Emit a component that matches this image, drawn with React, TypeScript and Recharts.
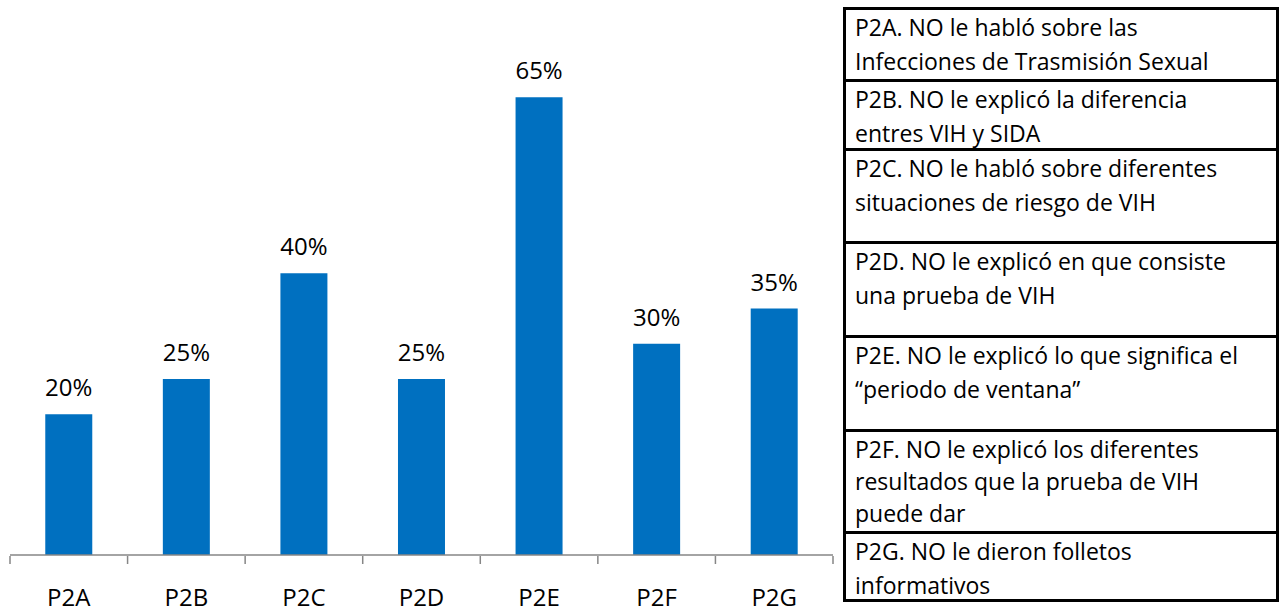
import React from 'react';
import { BarChart, Bar, XAxis, YAxis, LabelList } from 'recharts';

const categories = ['P2A', 'P2B', 'P2C', 'P2D', 'P2E', 'P2F', 'P2G'];
const values = [20, 25, 40, 25, 65, 30, 35];
const boundaryTicks = [0, 1, 2, 3, 4, 5, 6, 7];
const descriptions: string[][] = [
  ['P2A. NO le habló sobre las', 'Infecciones de Trasmisión Sexual'],
  ['P2B. NO le explicó la diferencia', 'entres VIH y SIDA'],
  ['P2C. NO le habló sobre diferentes', 'situaciones de riesgo de VIH'],
  ['P2D. NO le explicó en que consiste', 'una prueba de VIH'],
  ['P2E. NO le explicó lo que significa el', '\u201cperiodo de ventana\u201d'],
  ['P2F. NO le explicó los diferentes', 'resultados que la prueba de VIH', 'puede dar'],
  ['P2G. NO le dieron folletos', 'informativos'],
];
const rowHeights = [69, 69, 93, 94, 94, 102, 68];

const data = categories.map((name, i) => ({ name, value: values[i] }));

const FONT = '"Open Sans", "Noto Sans", sans-serif';

const CategoryTick = (props: any) => {
  const { x, y, payload } = props;
  return (
    <text x={x} y={y} dy={51} textAnchor="middle" fill="#000" fontSize={24} fontFamily={FONT}>
      {payload.value}
    </text>
  );
};

export default function App() {
  return (
    <div style={{ position: 'absolute', left: 0, top: 0, width: 1280, height: 610, background: '#fff', overflow: 'hidden' }}>
      <div style={{ position: 'absolute', left: 0, top: 0 }}>
        <BarChart
          width={843}
          height={610}
          data={data}
          margin={{ top: 62, right: 10, bottom: 15, left: 10 }}
          barCategoryGap="30%"
        >
          <XAxis
            xAxisId="edges"
            type="number"
            dataKey="__edge"
            domain={[0, boundaryTicks.length - 1]}
            ticks={boundaryTicks}
            allowDataOverflow
            height={39}
            axisLine={false}
            tickFormatter={() => ''}
            tickLine={{ stroke: '#868686', strokeWidth: 1.5 }}
            tickSize={8}
            interval={0}
          />
          <XAxis
            dataKey="name"
            height={1}
            axisLine={{ stroke: '#868686', strokeWidth: 1.5 }}
            tickLine={false}
            tickSize={0}
            tickMargin={0}
            tick={<CategoryTick />}
            interval={0}
          />
          <YAxis hide domain={[0, 70]} />
          <Bar dataKey="value" fill="#0070C0" isAnimationActive={false}>
            <LabelList
              dataKey="value"
              position="top"
              offset={18}
              formatter={(v: any) => `${v}%`}
              fill="#000"
              fontSize={24}
              fontFamily={FONT}
            />
          </Bar>
        </BarChart>
      </div>
      <div
        style={{
          position: 'absolute',
          left: 843,
          top: 7,
          width: 436,
          boxSizing: 'border-box',
          border: '3px solid #000',
          fontFamily: FONT,
          fontSize: 23,
          lineHeight: '34px',
          color: '#000',
        }}
      >
        {descriptions.map((lines, i) => (
          <div
            key={i}
            style={{
              height: rowHeights[i],
              boxSizing: 'border-box',
              borderTop: i === 0 ? 'none' : '3px solid #000',
              paddingLeft: 9,
              overflow: 'hidden',
            }}
          >
            {lines.map((l, j) => (
              <div key={j} style={{ whiteSpace: 'nowrap', height: lines.length > 2 ? 32 : 34 }}>
                {l}
              </div>
            ))}
          </div>
        ))}
      </div>
    </div>
  );
}
